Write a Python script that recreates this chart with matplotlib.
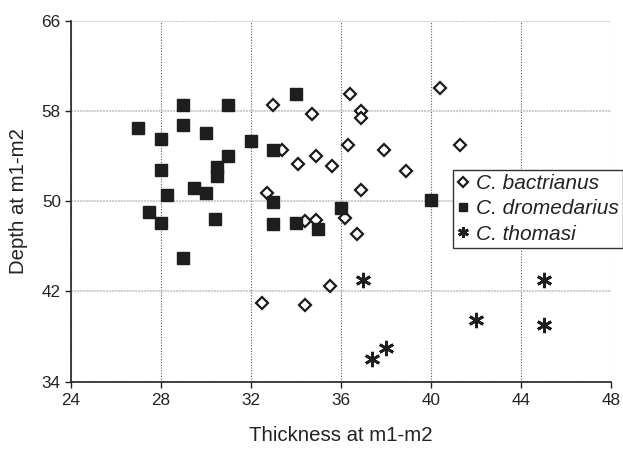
import matplotlib.pyplot as plt

# --- measurements at m1-m2 (thickness, depth) per species ---
bact_thick = [36.4, 40.4, 33.0, 34.7, 36.9, 36.9, 36.3, 41.3, 33.4, 34.1, 34.9, 35.6,
              37.9, 38.9, 36.9, 32.7, 34.4, 34.9, 36.2, 36.7, 35.5, 32.5, 34.4]
bact_depth = [59.5, 60.0, 58.5, 57.7, 58.0, 57.4, 55.0, 55.0, 54.5, 53.3, 54.0, 53.1,
              54.5, 52.7, 51.0, 50.7, 48.2, 48.3, 48.5, 47.1, 42.5, 41.0, 40.8]

drom_thick = [27.0, 28.0, 29.0, 29.0, 30.0, 31.0, 31.0, 32.0, 33.0, 34.0, 28.0, 30.5, 30.5,
              29.5, 30.0, 28.3, 27.5, 28.0, 30.4, 29.0, 33.0, 33.0, 34.0, 35.0, 36.0, 40.0]
drom_depth = [56.5, 55.5, 58.5, 56.7, 56.0, 58.5, 54.0, 55.3, 54.5, 59.5, 52.8, 53.0, 52.2,
              51.2, 50.7, 50.5, 49.0, 48.1, 48.4, 45.0, 49.9, 48.0, 48.1, 47.5, 49.4, 50.1]

thom_thick = [37.0, 45.0, 42.0, 45.0, 38.0, 37.4]
thom_depth = [43.0, 43.0, 39.5, 39.0, 37.0, 36.0]

x_ticks = [24, 28, 32, 36, 40, 44, 48]
y_ticks = [34, 42, 50, 58, 66]

plt.rcParams['font.family'] = ['Liberation Sans', 'DejaVu Sans']

fig = plt.figure(figsize=(6.23, 4.5), dpi=100)
ax = fig.add_axes([0.1132, 0.1518, 0.868, 0.8026])

# grid: light horizontal lines, darker dotted vertical lines
ax.yaxis.grid(True, color='#cfcfcf', linestyle=(0, (1, 0.4)), linewidth=1.5)
ax.xaxis.grid(True, color='#5a5a5a', linestyle=(0, (1, 1.5)), linewidth=0.8)
ax.set_axisbelow(True)

ax.plot(bact_thick, bact_depth, linestyle='none', marker='D', markersize=6.6,
        markerfacecolor='white', markeredgecolor='#1a1a1a', markeredgewidth=1.6,
        label='C. bactrianus', clip_on=False)
ax.plot(drom_thick, drom_depth, linestyle='none', marker='s', markersize=8.2,
        color='#1e1e1e', label='C. dromedarius', clip_on=False)
ax.plot(thom_thick, thom_depth, linestyle='none', marker=(6, 2, 0), markersize=11,
        color='#1e1e1e', markeredgewidth=2.0, label='C. thomasi', clip_on=False)

ax.set_xlim(24, 48)
ax.set_ylim(34, 66)
ax.set_xticks(x_ticks)
ax.set_yticks(y_ticks)

for side in ['top', 'right']:
    ax.spines[side].set_visible(False)
for side in ['left', 'bottom']:
    ax.spines[side].set_color('#222222')
    ax.spines[side].set_linewidth(1.2)

ax.tick_params(axis='both', direction='out', length=4, width=1, color='#222222',
               labelsize=12.3, labelcolor='#222222')
ax.tick_params(axis='x', pad=4)
ax.tick_params(axis='y', pad=3)

ax.set_xlabel('Thickness at m1-m2', fontsize=14.7, color='#222222', labelpad=13)
ax.set_ylabel('Depth at m1-m2', fontsize=14.7, color='#222222', labelpad=10)

leg = ax.legend(loc='upper left', bbox_to_anchor=(0.707, 0.586), fancybox=False,
                framealpha=1, edgecolor='#333333', handlelength=0.55, handletextpad=0.35,
                borderpad=0.2, labelspacing=0.3, borderaxespad=0, markerscale=0.7,
                prop={'size': 15, 'style': 'italic'})
leg.get_frame().set_linewidth(1.0)
for t in leg.get_texts():
    t.set_color('#222222')

fig.savefig('out.png', dpi=100)
